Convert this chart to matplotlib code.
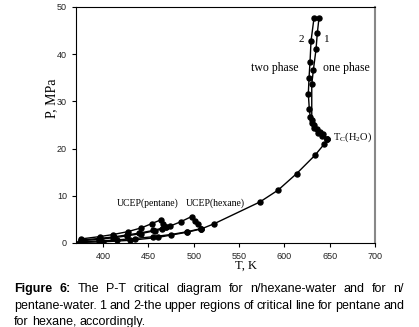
import matplotlib
matplotlib.use('Agg')
import matplotlib.pyplot as plt

# water vapour pressure up to Tc(H2O)
water_T = [373, 400, 430, 460, 493, 508.5, 522.7, 573, 593, 613.5, 633.8, 643.7, 647.1]
water_P = [0.1, 0.25, 0.57, 1.17, 2.3, 3.0, 4.1, 8.7, 11.2, 14.7, 18.6, 20.9, 22.06]

# hydrocarbon vapour pressures
hex_T = [375, 395, 415, 435, 455, 475, 493, 507.6]
hex_P = [0.27, 0.42, 0.65, 0.95, 1.33, 1.8, 2.4, 3.03]
pen_T = [375, 395, 412, 426, 440, 455, 469.7]
pen_P = [0.62, 0.95, 1.3, 1.7, 2.1, 2.65, 3.37]

# three-phase lines up to UCEP, then down to hydrocarbon Tc
pen3_T = [375, 396, 411, 427, 442, 453.5, 463.5, 466.5, 469.7]
pen3_P = [0.85, 1.35, 1.8, 2.4, 3.2, 4.1, 4.9, 4.1, 3.37]
hex3_T = [375, 396, 411, 426, 442, 457, 465, 474, 485.6, 497.5, 501, 505, 507.6]
hex3_P = [0.45, 0.8, 1.1, 1.5, 2.0, 2.6, 2.95, 3.6, 4.5, 5.6, 4.7, 4.0, 3.03]

# upper critical lines from Tc(H2O): 1 - pentane, 2 - hexane
c1_T = [647.1, 643, 639.3, 635.6, 632.7, 630.2, 630.2, 632, 634.9, 636.3, 638.2]
c1_P = [22.06, 23.1, 23.6, 24.2, 25.1, 26.0, 33.6, 36.7, 41.0, 44.4, 47.7]
c2_T = [647.1, 642, 637, 633, 630.5, 628.5, 627.5, 626.4, 627.2, 628.3, 629.4, 632.7]
c2_P = [22.06, 22.7, 23.3, 24.3, 25.4, 26.8, 28.4, 31.6, 35.0, 38.4, 42.8, 47.7]

W, H = 419, 327
fig = plt.figure(figsize=(W / 100, H / 100), dpi=100)
ax = fig.add_axes([76 / W, 1 - 243 / H, 299 / W, 236 / H])

for T, P in [(water_T, water_P), (hex_T, hex_P), (pen_T, pen_P),
             (pen3_T, pen3_P), (hex3_T, hex3_P), (c1_T, c1_P), (c2_T, c2_P)]:
    ax.plot(T, P, color='black', lw=1, marker='o', ms=3.6)

ax.set_xlim(370, 700)
ax.set_ylim(0, 50)
ax.set_xticks(range(400, 701, 50))
ax.set_yticks(range(0, 51, 10))
ax.tick_params(direction='out', length=3, width=0.8, labelsize=6.5,
               labelcolor='#222')
for lab in ax.get_xticklabels() + ax.get_yticklabels():
    lab.set_family('Liberation Sans')
ax.spines['right'].set_color('#888')
ax.spines['right'].set_linewidth(1.5)
ax.spines['top'].set_linewidth(0.8)

serif = 'Liberation Serif'
ax.text(619, 43.2, '2', family=serif, fontsize=8, ha='center', va='center')
ax.text(647, 43.2, '1', family=serif, fontsize=8, ha='center', va='center')
ax.text(616, 37, 'two phase', family=serif, fontsize=8.5, ha='right', va='center')
ax.text(642.5, 37, 'one phase', family=serif, fontsize=8.5, ha='left', va='center')
ax.text(654, 22.4, r'T$_\mathregular{C}$(H$_\mathregular{2}$O)', family=serif,
        fontsize=7.5, ha='left', va='center')
ax.text(415, 8.4, 'UCEP(pentane)', family=serif, fontsize=7, ha='left', va='center')
ax.text(491, 8.4, 'UCEP(hexane)', family=serif, fontsize=7, ha='left', va='center')
fig.text(52 / W, 1 - 98 / H, 'P, MPa', family=serif, fontsize=10, rotation=90,
         ha='center', va='center')
fig.text(246 / W, 1 - 266 / H, 'T, K', family=serif, fontsize=9,
         ha='center', va='center')

# caption, justified lines
fig.canvas.draw()
r = fig.canvas.get_renderer()


def caption_line(words, y, x0, x1, nbold=0, justify=True):
    texts = [fig.text(0, 1 - y / H, w, family='Liberation Sans', fontsize=9,
                      weight='bold' if i < nbold else 'normal', va='center')
             for i, w in enumerate(words)]
    widths = [t.get_window_extent(r).width for t in texts]
    space = texts[0].get_fontsize() * 100 / 72 * 0.278
    gap = (x1 - x0 - sum(widths)) / (len(words) - 1) if justify else space
    x = x0
    for t, w in zip(texts, widths):
        t.set_x(x / W)
        x += w + gap


caption_line('Figure 6: The P-T critical diagram for n/hexane-water and for n/'.split(),
             289, 14, 404, nbold=2)
caption_line('pentane-water. 1 and 2-the upper regions of critical line for pentane and'.split(),
             306, 14, 404)
caption_line('for hexane, accordingly.'.split(), 322, 14, 404, justify=False)

fig.savefig('out.png', dpi=100)
